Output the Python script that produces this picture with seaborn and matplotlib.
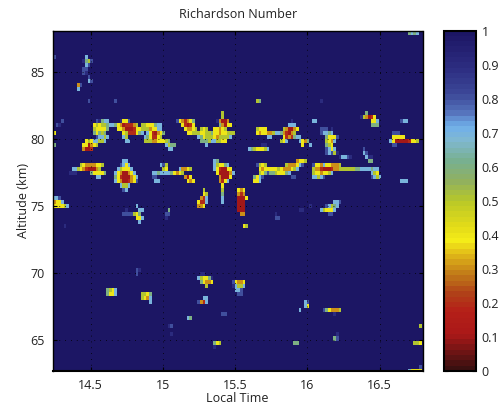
import numpy as np
import pandas as pd
import matplotlib
matplotlib.use("Agg")
import matplotlib.pyplot as plt
from matplotlib.colors import LinearSegmentedColormap, ListedColormap
import seaborn as sns

title = "Richardson Number"
x_label = "Local Time"
y_label = "Altitude (km)"
x_ticks = [14.5, 15, 15.5, 16, 16.5]
x_tick_labels = ["14.5", "15", "15.5", "16", "16.5"]
y_ticks = [65, 70, 75, 80, 85]
cbar_ticks = [0, .1, .2, .3, .4, .5, .6, .7, .8, .9, 1]
cbar_labels = ["0", "0.1", "0.2", "0.3", "0.4", "0.5", "0.6", "0.7", "0.8", "0.9", "1"]

time_start, time_step, n_times = 14.24, 0.01848, 139
alt_top, read_step, alt_step, n_alts = 88.09, 0.25, 0.3, 85
background_ri = 1.0

# (altitude reading from top in 0.25 km steps, first time bin, Ri tenths per bin; '.' = background)
ri_runs = [
    (0,133,"6767"),
    (7,0,"8"),(7,12,"7"),(8,11,"967"),(9,12,"758"),(10,12,"78"),(11,11,"88"),(12,11,"89"),
    (13,13,"8"),(14,13,"88"),(15,13,"7"),(16,9,"38"),(17,9,"7"),(20,13,"8"),(20,23,"8"),
    (21,76,"56"),(20,100,"9"),
    (24,117,"6"),(24,63,"5"),(25,63,"5"),(25,115,"953124"),
    (26,19,"77"),(26,46,"84446"),(26,62,"313"),(26,97,"77"),(26,119,"44"),
    (27,3,"8"),(27,16,"89677"),(27,25,"9448"),(27,46,"9532346"),(27,61,"94113"),(27,89,"9"),(27,98,"9"),(27,120,"77"),(27,130,"877"),
    (28,1,"89"),(28,15,"45455677"),(28,23,"643122235"),(28,33,"55444677"),(28,48,"42124"),(28,62,"63144"),(28,88,"777"),(28,119,"666"),
    (29,15,"544446"),(29,24,"4431112445"),(29,34,"5534477"),(29,49,"43345"),(29,55,"545..44345"),(29,76,"5444"),(29,86,"531134"),(29,100,"888.9"),
    (30,0,"4"),(30,15,"64656"),(30,26,"45222467"),(30,35,"7421346"),(30,50,"44555"),(30,55,"4455644344555"),(30,76,"434433577632135"),(30,100,"87767"),(30,127,"888"),
    (31,16,"87757"),(31,26,"75"),(31,34,"7642245"),(31,54,"7645554355557"),(31,80,"77"),(31,86,"4232677"),(31,102,"64448"),(31,127,"44444"),
    (32,14,"677557"),(32,27,"77"),(32,34,"55533447"),(32,55,"6665775544"),(32,85,"547"),(32,92,"77"),(32,102,"5437"),(32,126,"74111134445"),
    (33,12,"45477"),(33,27,"7"),(33,41,"456"),(33,56,"6677"),(33,93,"436"),(33,102,"5547"),(33,127,"5111112478"),
    (34,0,"6"),(34,11,"441345"),(34,42,"7566"),(34,57,"7"),(34,78,"99"),(34,93,"4"),(34,96,"7"),(34,102,"654"),(34,127,"88"),
    (35,11,"3112"),(35,43,"77"),(35,73,"76544457"),(35,102,"8747"),(35,116,"8"),
    (36,102,"87859"),(36,116,"78"),
    (37,107,"97789"),(37,117,"799"),
    (38,26,"7"),(38,60,"8"),(38,118,"66"),
    (39,26,"77"),(39,60,"76"),(39,91,"3445"),(39,118,"9"),
    (40,10,"543333445"),(40,25,"8747"),(40,40,"785"),(40,60,"754467"),(40,76,"8545"),(40,87,"5333478"),(40,97,"84437443335"),
    (41,7,"77543211135"),(41,24,"754447"),(41,41,"54"),(41,47,"73345"),(41,60,"7421144"),(41,77,"434444454333457"),(41,97,"53321112335555556677776"),(41,119,"777"),
    (42,6,"999"),(42,14,"644446"),(42,23,"74311347"),(42,37,"776777764345"),(42,61,"4111137"),(42,77,"546866544467"),(42,97,"54434457"),(42,119,"754"),
    (43,16,"77"),(43,23,"642111347"),(43,37,"88"),(43,49,"314"),(43,62,"31114"),(43,75,"6478"),(43,89,"88"),(43,97,"77578"),(43,119,"8757"),
    (44,23,"743112348"),(44,38,"77"),(44,50,"434"),(44,62,"4247"),(44,75,"447"),(44,130,"7"),
    (45,24,"744447"),(45,39,"7"),(45,50,"7"),(45,62,"34"),(45,75,"78"),(45,131,"77"),
    (46,25,"7557"),(46,63,"4"),
    (47,26,"87"),(47,56,"5"),(47,63,"5"),(47,69,"434"),
    (48,56,"45"),(48,63,"6"),(48,69,"323"),
    (49,0,"778"),(49,55,"327"),(49,63,"7"),(49,69,"1114"),
    (50,0,"778"),(50,54,"4247"),(50,63,"7"),(50,69,"111"),(50,105,"77"),
    (51,0,"3447"),(51,54,"4327"),(51,69,"111"),(51,105,"778"),
    (52,0,"444457"),(52,31,"7"),(52,54,"334"),(52,69,"111"),(52,96,"9"),(52,102,"87567"),
    (53,27,"9"),(53,32,"77"),(53,43,"6"),(53,69,"111"),(53,92,"99"),(53,100,"754447"),
    (54,26,"8888"),(54,30,"546"),(54,42,"88"),(54,70,"33"),(54,83,"9"),(54,103,"88"),
    (55,31,"447"),(55,42,"9"),(55,83,"88"),
    (56,32,"7"),
    (58,4,"9"),(58,71,"45"),
    (71,31,"89"),(72,31,"8"),(72,55,"99"),
    (73,54,"754469"),(74,55,"64344"),(74,67,"87777"),
    (75,56,"6334"),(75,67,"94334"),(76,57,"5"),(76,67,"97557"),
    (77,20,"6547"),(77,68,"778"),(78,20,"6447"),(78,33,"5546"),(78,69,"88"),
    (79,33,"5437"),(79,56,"77"),(80,36,"7"),(80,54,"8327"),
    (81,55,"667"),(81,94,"78"),(82,94,"74"),
    (83,92,"7"),(83,101,"8643335"),(84,63,"88"),(84,105,"9"),
    (85,50,"76"),
    (88,43,"98"),(88,137,"5"),(90,44,"9"),(90,106,"9"),(91,105,"68"),
    (92,61,"88"),(92,90,"66"),(92,135,"554"),(93,60,"645"),(93,90,"66"),(93,137,"6"),(94,60,"9"),
    (100,137,"8"),(101,133,"74444"),
]
row_bins, start_bins, ri_codes = zip(*ri_runs)

level_positions = [0, .05, .10, .17, .22, .28, .34, .38, .42, .50, .56, .62, .68, .72, .76, .82, .90, 1]
level_colors = ["#3a1010", "#701414", "#aa1818", "#b52018", "#b04018", "#c07818", "#e0b818",
                "#f4ec18", "#e4dc18", "#b8c828", "#90b060", "#78b090", "#80b8d0", "#70b0ea",
                "#5878c0", "#3c4898", "#2c2c80", "#1c1664"]

# Readings fall into 0.3 km cells; a cell keeps the lowest Ri read in it.
grid = np.full((n_alts, n_times), background_ri)
for r, c, code in zip(row_bins, start_bins, ri_codes):
    cell = min(int((r + .5) * read_step / alt_step), n_alts - 1)
    for i, ch in enumerate(code):
        if ch != "." and c + i < n_times:
            grid[cell, c + i] = min(grid[cell, c + i], int(ch) / 10)

times = [round(time_start + (i + .5) * time_step, 3) for i in range(n_times)]
alts = [round(alt_top - (i + .5) * alt_step, 3) for i in range(n_alts)]
frame = pd.DataFrame(grid, index=alts, columns=times)

sns.set_theme(style="white")
plt.rcParams["font.family"] = ["Open Sans", "DejaVu Sans"]
font_px = 9

cmap = ListedColormap(LinearSegmentedColormap.from_list(
    "ri", list(zip(level_positions, level_colors)))(np.linspace(0, 1, 64)))

W, H = 499, 404
fig = plt.figure(figsize=(W / 100, H / 100), dpi=100)
ax = fig.add_axes([53 / W, 1 - 371 / H, 369.5 / W, 340.5 / H])
cax = fig.add_axes([444 / W, 1 - 371 / H, 32 / W, 340.5 / H])

sns.heatmap(frame, ax=ax, cbar_ax=cax, cmap=cmap, vmin=0, vmax=1,
            xticklabels=False, yticklabels=False,
            cbar_kws={"ticks": cbar_ticks})

to_x = lambda t: (np.asarray(t) - time_start) / time_step
to_y = lambda a: (alt_top - np.asarray(a)) / alt_step
ax.set_xlim(0, 369.5 / 144.5 / time_step)
ax.set_ylim(340.5 / 13.42 / alt_step, 0)
ax.set_xticks(to_x(x_ticks))
ax.set_xticklabels(x_tick_labels)
ax.set_yticks(to_y(y_ticks))
ax.set_yticklabels([str(v) for v in y_ticks], rotation=0)
ax.tick_params(direction="in", length=3, width=0.8, color="black", top=True, right=True,
               bottom=True, left=True, labelsize=font_px, labelcolor="#222222", pad=6)
ax.grid(True, linestyle=(0, (1, 6)), linewidth=0.6, color="black")
ax.set_axisbelow(False)
for s in ax.spines.values():
    s.set_visible(True)
    s.set_color("black")
    s.set_linewidth(1.0)
ax.spines["bottom"].set_linewidth(1.5)
ax.set_title(title, fontsize=font_px, color="#222222", pad=9)
ax.set_xlabel(x_label, fontsize=font_px, color="#222222", labelpad=-0.5)
ax.set_ylabel(y_label, fontsize=font_px, color="#222222", labelpad=0)

cb = ax.collections[0].colorbar
cb.set_ticks(cbar_ticks)
cb.set_ticklabels(cbar_labels)
cb.outline.set_visible(True)
cb.outline.set_edgecolor("black")
cb.outline.set_linewidth(1.5)
cax.tick_params(direction="in", length=3, width=0.8, color="black", left=True, right=True,
                labelsize=font_px, labelcolor="#222222", pad=4)

fig.savefig("out.png", dpi=100)
